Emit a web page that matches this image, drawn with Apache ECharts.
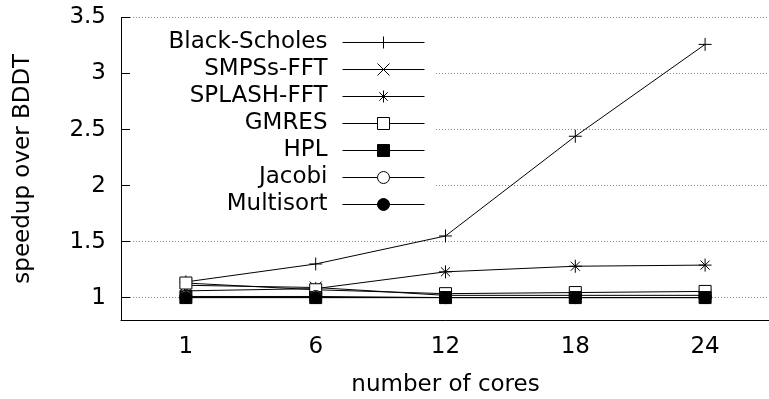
<!DOCTYPE html>
<html>
<head>
<meta charset="utf-8">
<script src="https://cdn.jsdelivr.net/npm/echarts@6/dist/echarts.min.js"></script>
<style>
	html, body { margin: 0; padding: 0; background: #fff; }
	#chart { width: 769px; height: 399px; }
</style>
</head>
<body>
<div id="chart"></div>
<script>
// 横轴类别（核数）
var cores = ['1', '6', '12', '18', '24'];
// 各程序相对 BDDT 的加速比
var blackScholes = [1.14, 1.30, 1.55, 2.44, 3.26];
var smpssFft = [1.11, 1.09, 1.02, 1.02, 1.02];
var splashFft = [1.06, 1.08, 1.23, 1.28, 1.29];
var gmres = [1.13, 1.07, 1.035, 1.045, 1.055];
var hpl = [1.0, 1.0, 1.0, 1.0, 1.0];
var jacobi = [1.01, 1.01, 1.0, 1.0, 1.0];
var multisort = [1.0, 1.0, 1.0, 1.0, 1.0];

var FONT = 'DejaVu Sans';
var FS = 23;

// 自定义符号：+ x *
var PLUS = 'path://M0,5L10,5M5,0L5,10';
var CROSS = 'path://M0,0L10,10M10,0L0,10';
var STAR = 'path://M0,5L10,5M5,0L5,10M1.5,1.5L8.5,8.5M8.5,1.5L1.5,8.5';

function mkSeries(name, data, symbol, size, fill) {
	return {
		name: name,
		type: 'line',
		data: data,
		symbol: symbol,
		symbolSize: size,
		showAllSymbol: true,
		yAxisIndex: 0,
		lineStyle: { color: '#000', width: 1 },
		itemStyle: { color: fill, borderColor: '#000', borderWidth: 1 },
		emphasis: { disabled: true },
		animation: false
	};
}

var myChart = echarts.init(document.getElementById('chart'));

var option = {
	animation: false,
	grid: { left: 121, top: 17.5, width: 649, height: 302.5, outerBoundsMode: 'none', containLabel: false },
	legend: {
		orient: 'vertical',
		align: 'right',
		right: 334,
		top: 23,
		itemWidth: 82,
		itemHeight: 15,
		itemGap: 4,
		padding: [8, 10, 8, 40],
		backgroundColor: '#fff',
		z: 5,
		lineStyle: { width: 1 },
		itemStyle: { borderWidth: 1 },
		textStyle: { fontFamily: FONT, fontSize: FS, color: '#000', padding: [0, 10, 0, 0] },
		data: ['Black-Scholes', 'SMPSs-FFT', 'SPLASH-FFT', 'GMRES', 'HPL', 'Jacobi', 'Multisort']
	},
	xAxis: {
		type: 'category',
		data: cores,
		boundaryGap: true,
		name: 'number of cores',
		nameLocation: 'middle',
		nameGap: 54,
		nameTextStyle: { fontFamily: FONT, fontSize: FS, color: '#000' },
		axisLine: { lineStyle: { color: '#000', width: 1 } },
		axisTick: { alignWithLabel: true, inside: true, length: 11, lineStyle: { color: '#000' } },
		axisLabel: { fontFamily: FONT, fontSize: FS, color: '#000', margin: 16 },
		splitLine: { show: false },
		z: 10
	},
	yAxis: [{
		// 只画网格线
		type: 'value',
		min: 0.8,
		max: 3.5,
		splitNumber: 5,
		axisLine: { show: false },
		axisTick: { show: false },
		axisLabel: { show: false },
		splitLine: { show: true, lineStyle: { color: '#888', width: 1, type: [1, 2] } }
	}, {
		// 坐标轴、刻度和标签，画在图例之上
		type: 'value',
		min: 0.8,
		max: 3.5,
		splitNumber: 5,
		position: 'left',
		z: 10,
		name: 'speedup over BDDT',
		nameLocation: 'middle',
		nameGap: 86,
		nameTextStyle: { fontFamily: FONT, fontSize: FS, color: '#000' },
		axisLine: { show: true, lineStyle: { color: '#000', width: 1 } },
		axisTick: { show: true, inside: true, length: 9, lineStyle: { color: '#000' } },
		axisLabel: { fontFamily: FONT, fontSize: FS, color: '#000', margin: 15, showMinLabel: false },
		splitLine: { show: false }
	}],
	series: [
		mkSeries('Black-Scholes', blackScholes, PLUS, 13, '#000'),
		mkSeries('SMPSs-FFT', smpssFft, CROSS, 12, '#000'),
		mkSeries('SPLASH-FFT', splashFft, STAR, 13, '#000'),
		mkSeries('GMRES', gmres, 'rect', 12, '#fff'),
		mkSeries('HPL', hpl, 'rect', 12, '#000'),
		mkSeries('Jacobi', jacobi, 'circle', 12, '#fff'),
		mkSeries('Multisort', multisort, 'circle', 12, '#000')
	]
};

myChart.setOption(option);
</script>
</body>
</html>
